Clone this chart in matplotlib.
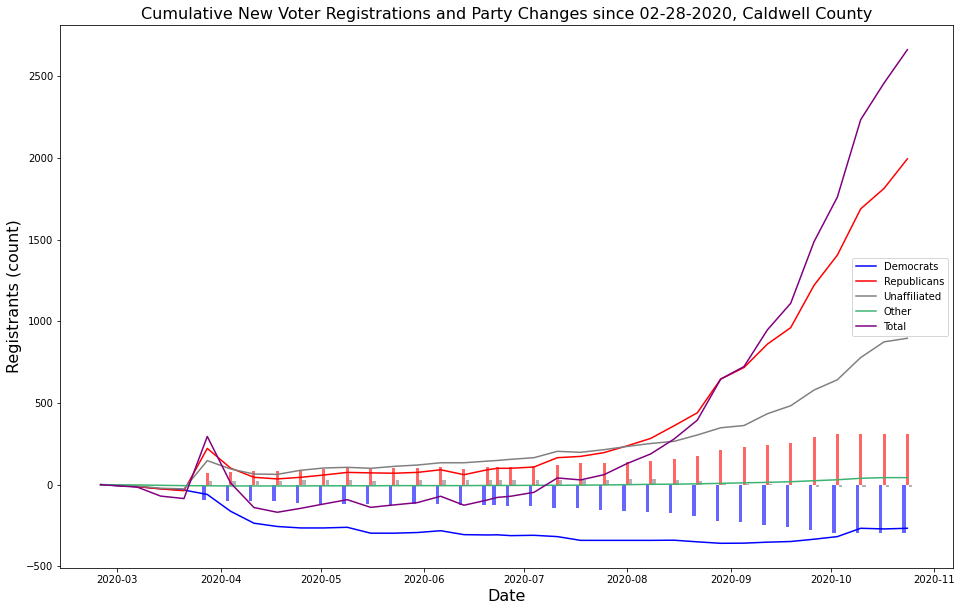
# Cumulative new voter registrations and party changes, Caldwell County

import numpy as np
import pandas as pd
import matplotlib
matplotlib.use("Agg")
import matplotlib.pyplot as plt

# weekly snapshot dates (one extra on 06-23)
dates = pd.to_datetime([
    "2020-02-25", "2020-03-07", "2020-03-14", "2020-03-21", "2020-03-28",
    "2020-04-04", "2020-04-11", "2020-04-18", "2020-04-25", "2020-05-02",
    "2020-05-09", "2020-05-16", "2020-05-23", "2020-05-30", "2020-06-06",
    "2020-06-13", "2020-06-20", "2020-06-23", "2020-06-27", "2020-07-04",
    "2020-07-11", "2020-07-18", "2020-07-25", "2020-08-01", "2020-08-08",
    "2020-08-15", "2020-08-22", "2020-08-29", "2020-09-05", "2020-09-12",
    "2020-09-19", "2020-09-26", "2020-10-03", "2020-10-10", "2020-10-17",
    "2020-10-24"])

# cumulative new registrations
democrats = [0, -12, -25, -33, -60, -163, -236, -256, -265, -265,
             -261, -297, -297, -293, -282, -306, -308, -307, -312, -310,
             -318, -341, -341, -341, -341, -340, -350, -359, -358, -352,
             -348, -334, -318, -267, -271, -267]
republicans = [0, -12, -26, -37, 222, 101, 45, 35, 45, 59,
               75, 72, 70, 75, 91, 61, 91, 100, 100, 108,
               165, 173, 196, 238, 283, 360, 440, 646, 717, 860,
               961, 1220, 1405, 1688, 1813, 1994]
unaffiliated = [0, -8, -22, -26, 147, 96, 65, 63, 88, 102,
                106, 100, 112, 120, 134, 134, 144, 148, 155, 165,
                204, 198, 214, 234, 252, 265, 304, 348, 362, 434,
                483, 579, 642, 778, 874, 896]
other = [0, -2, -4, -6, -7, -8, -8, -8, -8, -7,
         -7, -7, -6, -6, -6, -6, -5, -5, -5, -4,
         -4, -3, -2, 0, 2, 3, 5, 8, 11, 14,
         18, 24, 30, 39, 43, 43]
total = [0, -15, -70, -85, 295, 10, -140, -169, -145, -118,
         -92, -139, -124, -110, -71, -126, -94, -78, -71, -47,
         41, 29, 61, 130, 188, 279, 395, 646, 723, 947,
         1110, 1487, 1760, 2234, 2458, 2662]

# cumulative party changes (bars start on 03-28)
change_dates = dates[4:]
dem_changes = [-92, -97, -98, -103, -114, -117, -120, -121, -124, -119,
               -120, -123, -126, -127, -133, -132, -145, -145, -157, -163,
               -169, -175, -194, -224, -230, -249, -261, -279, -298, -298,
               -298, -298]
rep_changes = [74, 80, 86, 86, 92, 94, 101, 97, 99, 103,
               105, 93, 110, 110, 110, 113, 122, 130, 134, 140,
               147, 159, 177, 214, 232, 244, 257, 293, 313, 313,
               313, 313]
una_changes = [24, 24, 24, 24, 30, 30, 30, 24, 30, 30,
               30, 30, 30, 30, 30, 31, 31, 31, 31, 37,
               37, 31, 24, 2, 1, 2, -4, -16, -16, -16,
               -16, -16]

fig = plt.figure(figsize=(962 / 72, 611 / 72), dpi=72)
ax = fig.add_subplot(111)
fig.subplots_adjust(left=0.0624, right=0.9906, top=0.959, bottom=0.0704)

day = pd.Timedelta(days=1)
ax.bar(change_dates - day, dem_changes, width=0.95, color="blue", alpha=0.6)
ax.bar(change_dates, rep_changes, width=0.9, color="red", alpha=0.6)
ax.bar(change_dates + day, una_changes, width=1.0, color="gray", alpha=0.6)

ax.plot(dates, democrats, color="blue", label="Democrats")
ax.plot(dates, republicans, color="red", label="Republicans")
ax.plot(dates, unaffiliated, color="gray", label="Unaffiliated")
ax.plot(dates, other, color="mediumseagreen", label="Other")
ax.plot(dates, total, color="purple", label="Total")

ax.set_title("Cumulative New Voter Registrations and Party Changes since 02-28-2020, Caldwell County",
             fontsize=16)
ax.set_xlabel("Date", fontsize=16)
ax.set_ylabel("Registrants (count)", fontsize=16)
ax.legend(loc="center right")

fig.savefig("out.png", dpi=72)
